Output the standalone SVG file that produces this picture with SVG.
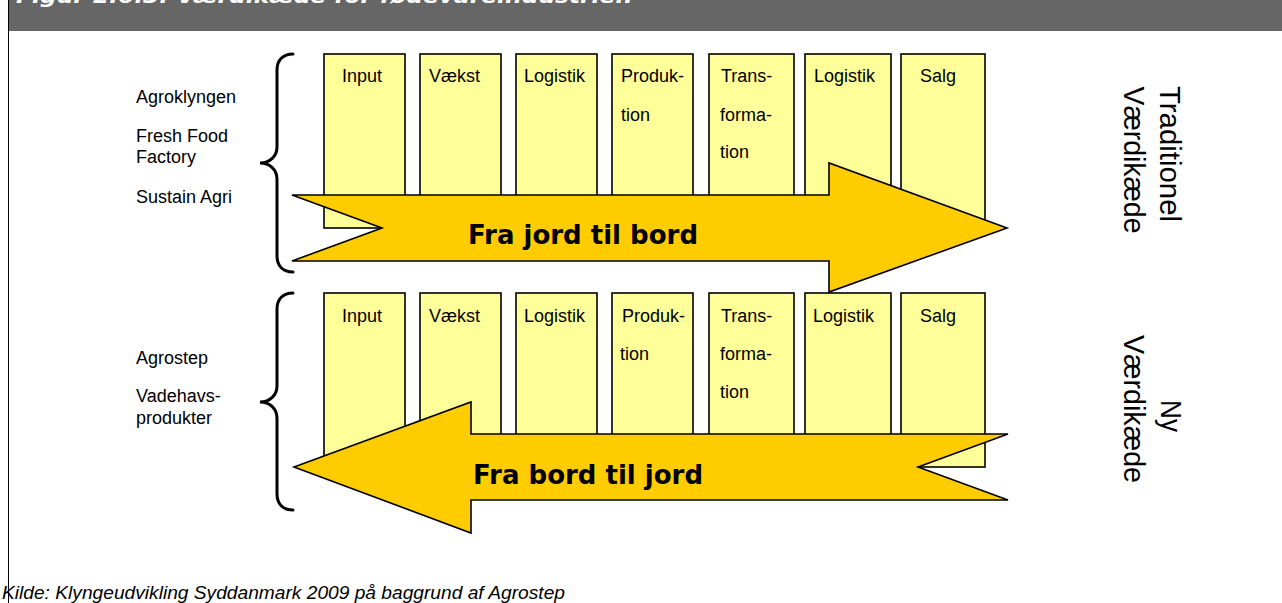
<svg xmlns="http://www.w3.org/2000/svg" width="1282" height="603" viewBox="0 0 1282 603">
  <style>
    .bg { fill: #ffffff; }
    .header { fill: #666666; }
    .title { font-family: "DejaVu Sans", "Liberation Sans", sans-serif; font-weight: bold; font-style: italic; font-size: 19.5px; fill: #ffffff; }
    .frame { stroke: #000000; stroke-width: 1; fill: none; }
    .step { fill: #ffff99; stroke: #000000; stroke-width: 1.6; }
    .lbl { font-family: "Liberation Sans", Arial, sans-serif; font-size: 18px; fill: #000000; }
    .side { font-family: "Liberation Sans", Arial, sans-serif; font-size: 18px; fill: #000000; }
    .flow { fill: #ffcc00; stroke: #000000; stroke-width: 1.6; stroke-linejoin: miter; }
    .flowtxt { font-family: "DejaVu Sans", "Liberation Sans", sans-serif; font-weight: bold; font-size: 26px; fill: #000000; }
    .brace { fill: none; stroke: #000000; stroke-width: 3; stroke-linecap: round; }
    .chain { font-family: "Liberation Sans", Arial, sans-serif; font-size: 30px; fill: #000000; text-anchor: middle; }
    .src { font-family: "Liberation Sans", Arial, sans-serif; font-style: italic; font-size: 19px; fill: #000000; }
  </style>

  <rect class="bg" x="0" y="0" width="1282" height="603"/>

  <!-- title bar -->
  <g id="titlebar">
    <rect class="header" x="8" y="0" width="1274" height="31"/>
    <text class="title" x="16" y="3" textLength="616" lengthAdjust="spacingAndGlyphs">Figur 2.6.3: Værdikæde for fødevareindustrien</text>
  </g>
  <line class="frame" x1="8.5" y1="0" x2="8.5" y2="603"/>

  <!-- traditional chain: steps -->
  <g id="top-input"><rect class="step" x="324" y="54" width="81" height="174"/><text class="lbl" x="342" y="82">Input</text></g>
  <g id="top-vaekst"><rect class="step" x="420" y="54" width="81" height="174"/><text class="lbl" x="429" y="82">Vækst</text></g>
  <g id="top-logistik1"><rect class="step" x="516" y="54" width="81" height="174"/><text class="lbl" x="524" y="82">Logistik</text></g>
  <g id="top-produktion"><rect class="step" x="612" y="54" width="81" height="174"/><text class="lbl" x="621" y="82">Produk-</text><text class="lbl" x="621" y="121">tion</text></g>
  <g id="top-transformation"><rect class="step" x="709" y="54" width="85" height="174"/><text class="lbl" x="721" y="82">Trans-</text><text class="lbl" x="720" y="121">forma-</text><text class="lbl" x="720" y="158">tion</text></g>
  <g id="top-logistik2"><rect class="step" x="805" y="54" width="86" height="174"/><text class="lbl" x="814" y="82">Logistik</text></g>
  <g id="top-salg"><rect class="step" x="901" y="54" width="84" height="174"/><text class="lbl" x="920" y="82">Salg</text></g>

  <!-- flows -->
  <g id="connectors">
    <g id="flow-forward">
      <path class="flow" d="M292,195 L829,195 L829,163 L1007,228 L829,292 L829,261 L292,261 L382,228 Z"/>
      <text class="flowtxt" x="468" y="244">Fra jord til bord</text>
    </g>
  </g>

  <!-- new chain: steps -->
  <g id="bot-input"><rect class="step" x="324" y="293" width="81" height="174"/><text class="lbl" x="342" y="322">Input</text></g>
  <g id="bot-vaekst"><rect class="step" x="420" y="293" width="81" height="174"/><text class="lbl" x="429" y="322">Vækst</text></g>
  <g id="bot-logistik1"><rect class="step" x="516" y="293" width="81" height="174"/><text class="lbl" x="524" y="322">Logistik</text></g>
  <g id="bot-produktion"><rect class="step" x="612" y="293" width="81" height="174"/><text class="lbl" x="622" y="322">Produk-</text><text class="lbl" x="620" y="360">tion</text></g>
  <g id="bot-transformation"><rect class="step" x="709" y="293" width="85" height="174"/><text class="lbl" x="721" y="322">Trans-</text><text class="lbl" x="720" y="360">forma-</text><text class="lbl" x="720" y="398">tion</text></g>
  <g id="bot-logistik2"><rect class="step" x="805" y="293" width="86" height="174"/><text class="lbl" x="813" y="322">Logistik</text></g>
  <g id="bot-salg"><rect class="step" x="901" y="293" width="84" height="174"/><text class="lbl" x="920" y="322">Salg</text></g>

  <g id="connectors-back">
    <g id="flow-backward">
      <path class="flow" d="M1008,434 L471,434 L471,402 L294,467 L471,533 L471,500 L1008,500 L918,467 Z"/>
      <text class="flowtxt" x="473" y="484">Fra bord til jord</text>
    </g>
  </g>

  <!-- actor lists with braces -->
  <g id="actors-traditional">
    <text class="side" x="136" y="103">Agroklyngen</text>
    <text class="side" x="136" y="142">Fresh Food</text>
    <text class="side" x="136" y="163">Factory</text>
    <text class="side" x="136" y="203">Sustain Agri</text>
    <path class="brace" d="M293,54 C283,54 277,60 277,70 L277,147 C277,156 270,163 260,163 C270,163 277,170 277,179 L277,256 C277,266 283,272 293,272"/>
  </g>
  <g id="actors-new">
    <text class="side" x="136" y="364">Agrostep</text>
    <text class="side" x="136" y="402">Vadehavs-</text>
    <text class="side" x="136" y="424">produkter</text>
    <path class="brace" d="M293,293 C283,293 277,299 277,309 L277,386 C277,395 270,402 260,402 C270,402 277,409 277,418 L277,494 C277,504 283,510 293,510"/>
  </g>

  <!-- chain names, read top to bottom -->
  <g id="label-traditional">
    <text class="chain" transform="translate(1160,154) rotate(90)" textLength="136" lengthAdjust="spacingAndGlyphs">Traditionel</text>
    <text class="chain" transform="translate(1124,160) rotate(90)" textLength="147" lengthAdjust="spacingAndGlyphs">Værdikæde</text>
  </g>
  <g id="label-new">
    <text class="chain" transform="translate(1161,416) rotate(90)" textLength="32" lengthAdjust="spacingAndGlyphs">Ny</text>
    <text class="chain" transform="translate(1124,409) rotate(90)" textLength="148" lengthAdjust="spacingAndGlyphs">Værdikæde</text>
  </g>

  <!-- source note -->
  <g id="source">
    <text class="src" x="2" y="599" textLength="563" lengthAdjust="spacingAndGlyphs">Kilde: Klyngeudvikling Syddanmark 2009 på baggrund af Agrostep</text>
  </g>
</svg>
